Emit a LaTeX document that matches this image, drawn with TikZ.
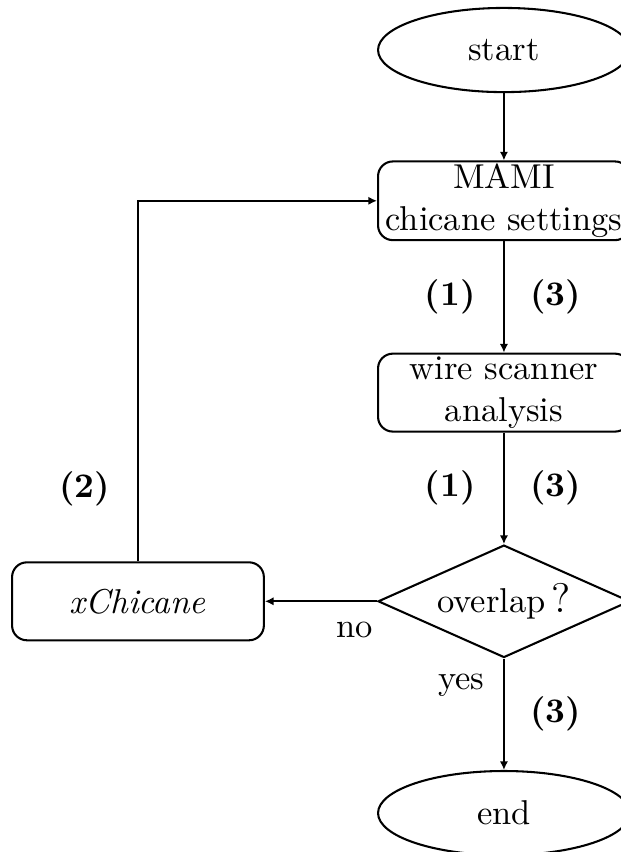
\documentclass[tikz,border=0pt]{standalone}
\usepackage{tikz}
\usetikzlibrary{positioning,shapes.geometric,arrows.meta}

\begin{document}
\begin{tikzpicture}[
    node distance=32.3pt and 32.5pt,
    terminal/.style={ellipse, draw, semithick, minimum width=73pt, minimum height=24.4pt, inner sep=1pt},
    process/.style={rectangle, rounded corners=4.3pt, draw, semithick, minimum width=73pt,
                    minimum height=22.6pt, align=center, inner sep=0.8pt},
    decision/.style={diamond, aspect=2.2, draw, semithick, minimum width=73pt, minimum height=32.6pt, inner sep=0pt},
    arrow/.style={-{Latex[length=2.5pt, width=2.4pt]}, semithick},
    tag/.style={font=\bfseries},
]
    \useasboundingbox (-146.1pt,14.5pt) rectangle (33.9pt,-232.5pt);

    \node[terminal] (start) {start};
    \node[process, below=19.5pt of start] (mami) {MAMI\\chicane settings};
    \node[process, below=of mami] (wire) {wire scanner\\analysis};
    \node[decision, below=of wire] (overlap) {overlap\,{\large ?}};
    \node[terminal, below=of overlap] (end) {end};
    \node[process, left=of overlap] (chicane) {\textit{xChicane}};

    \draw[arrow] (start) -- (mami);
    \draw[arrow] (mami) -- node[tag, left=4.6pt] {(1)} node[tag, right=4pt] {(3)} (wire);
    \draw[arrow] (wire) -- node[tag, left=4.6pt] {(1)} node[tag, right=4pt] {(3)} (overlap);
    \draw[arrow] (overlap) -- node[pos=0.24, left=2pt] {yes} node[tag, right=4pt] {(3)} (end);
    \draw[arrow] (overlap) -- node[pos=0.2, below=2.5pt] {no} (chicane);
    \draw[arrow] (chicane) |- node[tag, pos=0.1, left=4.5pt] {(2)} (mami);
\end{tikzpicture}
\end{document}
